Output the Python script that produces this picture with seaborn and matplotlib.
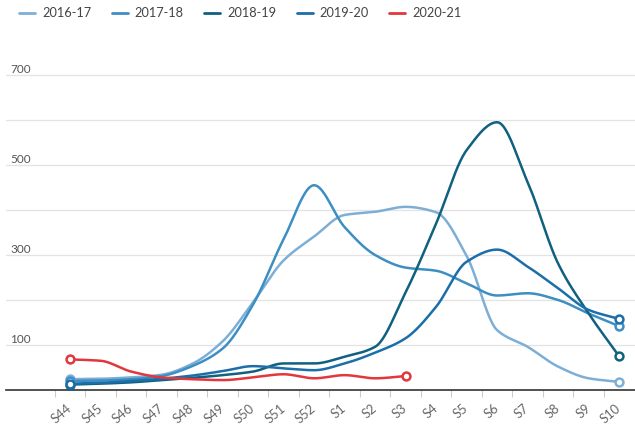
import numpy as np
import pandas as pd
import matplotlib
matplotlib.use("Agg")
import matplotlib.pyplot as plt
import matplotlib.transforms as mtransforms
from matplotlib.lines import Line2D
import seaborn as sns

weeks = ["S44", "S45", "S46", "S47", "S48", "S49", "S50", "S51", "S52",
         "S1", "S2", "S3", "S4", "S5", "S6", "S7", "S8", "S9", "S10"]
seasons = ["2016-17", "2017-18", "2018-19", "2019-20", "2020-21"]

s2016_17 = [24, 25, 28, 34, 58, 108, 195, 288, 341, 389, 396, 407, 395, 298, 133, 96, 52, 26, 18]
s2017_18 = [20, 21, 24, 31, 53, 92, 190, 335, 455, 362, 300, 272, 265, 237, 210, 215, 200, 170, 142]
s2018_19 = [12, 14, 17, 22, 27, 33, 41, 59, 59, 74, 96, 217, 370, 533, 595, 462, 281, 170, 75]
s2019_20 = [14, 16, 20, 25, 32, 42, 53, 48, 44, 59, 83, 115, 185, 285, 312, 274, 226, 178, 158]
s2020_21 = [68, 65, 41, 28, 24, 22, 28, 35, 26, 33, 26, 31]

series = [s2016_17, s2017_18, s2018_19, s2019_20, s2020_21]
colors = ["#7dafd6", "#3d8ec2", "#10617f", "#1c6ea9", "#e2373c"]


def monotone_curve(y, n=24):
    """Monotone cubic (Fritsch-Carlson) rendering of a series."""
    y = np.asarray(y, dtype=float)
    x = np.arange(len(y), dtype=float)
    d = np.diff(y)
    m = np.zeros_like(y)
    m[0], m[-1] = d[0], d[-1]
    for i in range(1, len(y) - 1):
        if d[i - 1] * d[i] <= 0:
            m[i] = 0.0
        else:
            m[i] = 2.0 / (1.0 / d[i - 1] + 1.0 / d[i])
    xs, ys = [], []
    for i in range(len(y) - 1):
        t = np.linspace(0, 1, n, endpoint=False)
        h00 = 2 * t**3 - 3 * t**2 + 1
        h10 = t**3 - 2 * t**2 + t
        h01 = -2 * t**3 + 3 * t**2
        h11 = t**3 - t**2
        xs.append(x[i] + t)
        ys.append(h00 * y[i] + h10 * m[i] + h01 * y[i + 1] + h11 * m[i + 1])
    xs.append([x[-1]])
    ys.append([y[-1]])
    return np.concatenate(xs), np.concatenate(ys)


frames, ends = [], []
for name, vals in zip(seasons, series):
    cx, cy = monotone_curve(vals)
    frames.append(pd.DataFrame({"x": cx, "y": cy, "season": name, "order": np.arange(len(cx))}))
    ends.append(pd.DataFrame({"x": [0, len(vals) - 1], "y": [vals[0], vals[-1]], "season": name}))
curves = pd.concat(frames, ignore_index=True)
endpts = pd.concat(ends, ignore_index=True)

sns.set_theme(style="white")
plt.rcParams["font.family"] = ["Lato", "DejaVu Sans"]

fig = plt.figure(figsize=(6.35, 4.30), dpi=100)
ax = fig.add_axes([6 / 635, 40 / 430, 629 / 635, 350 / 430])

palette = dict(zip(seasons, colors))
for name in seasons:
    sub = curves[curves["season"] == name]
    sns.lineplot(data=sub, x="x", y="y", color=palette[name], lw=1.8,
                 sort=False, estimator=None, ax=ax, legend=False, zorder=3)
for name in seasons:
    sub = endpts[endpts["season"] == name]
    sns.scatterplot(data=sub, x="x", y="y", color="white", edgecolor=palette[name],
                    linewidth=1.8, s=32, ax=ax, legend=False, zorder=4)

ax.set_xlim(-2.1, 18.52)
ax.set_ylim(0, 350 / 0.45)

for v in range(100, 800, 100):
    ax.axhline(v, color="#e3e3e3", lw=0.9, zorder=1)

trans = mtransforms.blended_transform_factory(ax.transAxes, ax.transData)
for v in [100, 300, 500, 700]:
    ax.text(4 / 629, v + 1, str(v), transform=trans, ha="left", va="bottom",
            fontsize=8.5, color="#555555")

ax.set_yticks([])
ax.set_xticks(range(len(weeks)))
ax.set_xticklabels(weeks, rotation=40, ha="right", va="center",
                   rotation_mode="anchor", fontsize=9.3, color="#666666")
ax.tick_params(axis="x", which="major", length=0, pad=12)
ax.set_xticks(np.arange(len(weeks)) - 0.5, minor=True)
ax.tick_params(axis="x", which="minor", length=5, width=0.8, color="#cccccc", bottom=True)
ax.set_xlabel("")
ax.set_ylabel("")

for sp in ["top", "right", "left"]:
    ax.spines[sp].set_visible(False)
ax.spines["bottom"].set_color("#333333")
ax.spines["bottom"].set_linewidth(1.2)

handles = [Line2D([0], [0], color=c, lw=2) for c in colors]
fig.legend(handles, seasons, loc="upper left", bbox_to_anchor=(0.012, 1.01),
           ncol=5, frameon=False, fontsize=9.2, handlelength=1.25,
           handletextpad=0.55, columnspacing=1.6, labelcolor="#444444")

fig.savefig("out.png", dpi=100)
